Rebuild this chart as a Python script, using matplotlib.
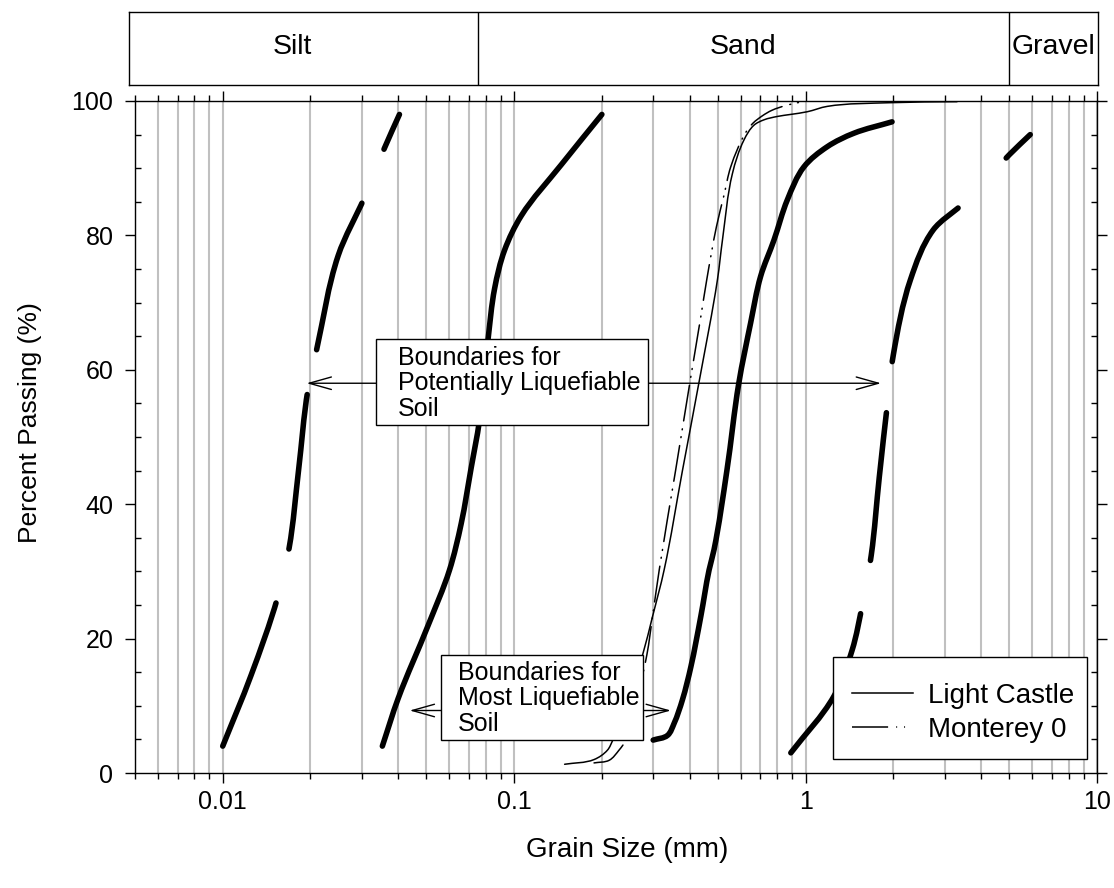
import numpy as np
import matplotlib
matplotlib.use("Agg")
import matplotlib.pyplot as plt
from matplotlib.ticker import (FixedLocator, LogLocator, MultipleLocator,
                               NullFormatter, FuncFormatter, NullLocator)
from matplotlib.patches import Rectangle, PathPatch
from matplotlib.path import Path
from matplotlib.lines import Line2D

plt.rcParams['font.family'] = ['Liberation Sans', 'DejaVu Sans']
plt.rcParams['lines.scale_dashes'] = False

# ---- grain-size distribution data (grain size in mm, percent passing) ----
# Boundaries for potentially liquefiable soil (fine side)
pot_fine_mm = [0.0100, 0.0125, 0.0154, 0.0169, 0.0182, 0.0196, 0.0210, 0.0249, 0.0306, 0.0359, 0.0404]
pot_fine_pct = [4.0, 14.5, 26.0, 33.5, 45.0, 57.0, 63.0, 77.0, 85.6, 93.0, 98.0]

# Boundaries for potentially liquefiable soil (coarse side)
pot_coarse_mm = [0.89, 1.25, 1.445, 1.567, 1.68, 1.79, 1.91, 2.0, 2.29, 2.74, 3.42, 4.2, 5.0, 5.9]
pot_coarse_pct = [3.0, 11.4, 18.3, 25.1, 32.4, 44.0, 55.0, 62.2, 73.4, 80.8, 84.5, 88.5, 92.0, 95.0]

# Boundaries for most liquefiable soil (fine side)
most_fine_mm = [0.0353, 0.040, 0.0506, 0.060, 0.0658, 0.0712, 0.076, 0.0813, 0.0857, 0.0927, 0.1057, 0.145, 0.20]
most_fine_pct = [4.0, 11.1, 21.9, 30.2, 37.1, 45.4, 52.4, 64.4, 72.1, 77.8, 82.9, 90.5, 98.0]

# Boundaries for most liquefiable soil (coarse side)
most_coarse_mm = [0.30, 0.336, 0.354, 0.378, 0.404, 0.437, 0.4665, 0.485, 0.537, 0.59, 0.648,
                  0.701, 0.779, 0.866, 0.987, 1.187, 1.464, 1.98]
most_coarse_pct = [4.9, 5.6, 7.4, 10.9, 15.8, 23.3, 30.2, 33.2, 45.0, 58.0, 67.0,
                   73.9, 79.3, 85.3, 90.2, 93.2, 95.2, 96.9]

# Tested sands
light_castle_mm = [0.149, 0.188, 0.209, 0.218, 0.245, 0.276, 0.2985, 0.327, 0.378, 0.4345, 0.4984,
                   0.5185, 0.561, 0.6146, 0.665, 0.720, 0.800, 0.888, 1.013, 1.187, 1.955, 3.31]
light_castle_pct = [1.3, 2.0, 3.4, 4.9, 10.5, 17.6, 23.3, 30.2, 45.0, 59.0, 73.4,
                    79.3, 89.2, 94.2, 96.4, 97.2, 97.7, 98.0, 98.4, 99.2, 99.75, 99.9]

monterey_mm = [0.188, 0.212, 0.229, 0.242, 0.262, 0.2854, 0.2985, 0.3146, 0.358, 0.404, 0.437,
               0.458, 0.4945, 0.525, 0.5536, 0.623, 0.660, 0.711, 0.765, 0.866, 1.01]
monterey_pct = [1.5, 1.9, 3.4, 4.9, 10.5, 17.6, 23.3, 30.2, 45.0, 59.0, 67.9,
                73.4, 81.3, 86.0, 90.2, 95.3, 96.7, 97.8, 98.6, 99.4, 100.0]

# Soil classification bands
band_names = ["Silt", "Sand", "Gravel"]
band_edges = [0.075, 5.0]
band_label_x = [0.0173, 0.612, 7.1]

x_ticks = [0.01, 0.1, 1, 10]

# ---- figure layout (pixel based) ----
W, H = 1114, 888
fig = plt.figure(figsize=(W / 100, H / 100), dpi=100)
L, R, T, B = 135, 1097, 101, 773
ax = fig.add_axes([L / W, (H - B) / H, (R - L) / W, (B - T) / H])

xmin, xmax = 0.005, 10.0
ax.set_xscale('log')
ax.set_xlim(xmin, xmax)
ax.set_ylim(0, 100)
dec_px = (R - L) / np.log10(xmax / xmin)   # pixels per decade
pct_px = (B - T) / 100.0                   # pixels per percent

ax.xaxis.set_major_locator(FixedLocator(x_ticks))
ax.xaxis.set_major_formatter(FuncFormatter(lambda v, p: f"{v:g}"))
ax.xaxis.set_minor_locator(LogLocator(base=10, subs=np.arange(2, 10)))
ax.xaxis.set_minor_formatter(NullFormatter())
ax.yaxis.set_major_locator(MultipleLocator(20))
ax.yaxis.set_minor_locator(MultipleLocator(5))

ax.grid(True, which='both', axis='x', color='#c0c0c0', lw=1.5)
ax.set_axisbelow(True)
for s in ax.spines.values():
    s.set_linewidth(1.0)

ax.tick_params(axis='x', which='both', direction='out', top=True, bottom=True,
               width=1.0, labelsize=18)
ax.tick_params(axis='x', which='major', length=7.5, pad=5)
ax.tick_params(axis='x', which='minor', length=4.5)
ax.tick_params(axis='y', which='major', direction='out', left=True, right=True,
               length=7.5, width=1.0, labelsize=18, pad=8)
ax.tick_params(axis='y', which='minor', direction='in', left=True, right=True,
               length=4.5, width=1.0)


def smooth_curve(xs, ys):
    """Bezier path through the points, smoothed in screen-like (log x) space."""
    P = np.column_stack([np.log10(xs) * dec_px, np.asarray(ys, float) * pct_px])
    n = len(P)
    tang = np.zeros_like(P)
    for i in range(n):
        if i == 0:
            d = P[1] - P[0]
        elif i == n - 1:
            d = P[-1] - P[-2]
        else:
            a = P[i] - P[i - 1]
            b = P[i + 1] - P[i]
            d = a / np.hypot(*a) + b / np.hypot(*b)
        tang[i] = d / np.hypot(*d)
    verts = [P[0]]
    codes = [Path.MOVETO]
    for i in range(n - 1):
        seg = np.hypot(*(P[i + 1] - P[i]))
        verts += [P[i] + tang[i] * seg / 3, P[i + 1] - tang[i + 1] * seg / 3, P[i + 1]]
        codes += [Path.CURVE4] * 3
    V = np.array(verts)
    V = np.column_stack([10 ** (V[:, 0] / dec_px), V[:, 1] / pct_px])
    return Path(V, codes)


def draw(xs, ys, lw, ls='solid', z=3):
    ax.add_patch(PathPatch(smooth_curve(xs, ys), fill=False, ec='k', lw=lw,
                           linestyle=ls, capstyle='round', joinstyle='round', zorder=z))


# ---- boundary curves ----
draw(pot_fine_mm, pot_fine_pct, 4.0, (0, (110, 40, 112, 33, 111, 42)))
draw(pot_coarse_mm, pot_coarse_pct, 4.0, (0, (114, 39, 107, 37, 124, 50)))
draw(most_fine_mm, most_fine_pct, 4.0)
draw(most_coarse_mm, most_coarse_pct, 4.0)

# ---- tested sands ----
mont_dash = (0, (26, 5.8, 0.7, 5.0, 0.7, 5.8))
draw(light_castle_mm, light_castle_pct, 1.1)
draw(monterey_mm, monterey_pct, 1.1, mont_dash)

# ---- annotation boxes with range arrows ----
arrow_kw = dict(arrowstyle='<->,head_length=1.6,head_width=0.45', color='k', lw=1.0,
                shrinkA=0, shrinkB=0, mutation_scale=10)

ax.annotate('', xy=(0.0194, 58.0), xytext=(1.815, 58.0), arrowprops=arrow_kw, zorder=4)
ax.add_patch(Rectangle((0.03368, 51.8), 0.2876 - 0.03368, 64.6 - 51.8,
                       fc='white', ec='k', lw=1.0, zorder=5))
ax.text(0.0400, 58.0, "Boundaries for\nPotentially Liquefiable\nSoil", fontsize=18,
        ha='left', va='center', linespacing=1.08, zorder=6)

ax.annotate('', xy=(0.0438, 9.3), xytext=(0.345, 9.3), arrowprops=arrow_kw, zorder=4)
ax.add_patch(Rectangle((0.05623, 4.9), 0.2766 - 0.05623, 17.6 - 4.9,
                       fc='white', ec='k', lw=1.0, zorder=5))
ax.text(0.0643, 11.1, "Boundaries for\nMost Liquefiable\nSoil", fontsize=18,
        ha='left', va='center', linespacing=1.08, zorder=6)

# ---- legend (frame drawn separately) ----
lx0, lx1, ly0, ly1 = 833, 1087, 657, 759
ax.add_patch(Rectangle(((lx0 - L) / (R - L), (B - ly1) / (B - T)),
                       (lx1 - lx0) / (R - L), (ly1 - ly0) / (B - T),
                       transform=ax.transAxes, fc='white', ec='k', lw=1.0, zorder=6.5))
handles = [Line2D([], [], color='k', lw=1.1),
           Line2D([], [], color='k', lw=1.1, linestyle=mont_dash)]
leg = ax.legend(handles, ['Light Castle', 'Monterey 0'], loc='center',
                bbox_to_anchor=((963 - L) / (R - L), (B - 713) / (B - T)),
                borderaxespad=0, fontsize=20, frameon=False,
                handlelength=2.2, handletextpad=0.55, borderpad=0.5, labelspacing=0.3)
leg.set_zorder(7)

# ---- axis titles ----
fig.text(627 / W, 1 - 850 / H, "Grain Size (mm)", fontsize=20, ha='center', va='center')
fig.text(30 / W, 1 - 423 / H, "Percent Passing (%)", fontsize=19, ha='center', va='center',
         rotation=90)

# ---- soil classification band above the plot ----
tl, tr, tt, tb = 129, 1098, 12, 85
axt = fig.add_axes([tl / W, (H - tb) / H, (tr - tl) / W, (tb - tt) / H])
axt.set_xscale('log')
axt.set_xlim(10 ** (np.log10(xmin) - (L - tl) / dec_px), 10 ** (np.log10(xmax) + (tr - R) / dec_px))
axt.set_ylim(0, 1)
axt.xaxis.set_major_locator(NullLocator())
axt.xaxis.set_minor_locator(NullLocator())
axt.yaxis.set_major_locator(NullLocator())
for s in axt.spines.values():
    s.set_linewidth(1.0)
for e in band_edges:
    axt.axvline(e, color='k', lw=1.0)
for name, xc in zip(band_names, band_label_x):
    axt.text(xc, 0.52, name, fontsize=20.5, ha='center', va='center')

fig.savefig("out.png", dpi=100)
